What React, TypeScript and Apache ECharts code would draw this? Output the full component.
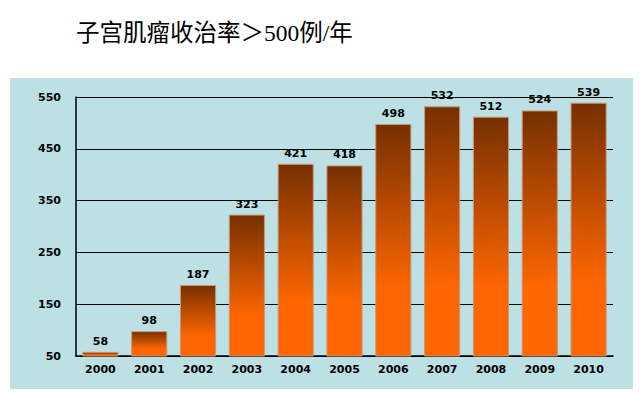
import React, { useEffect, useRef } from "react";
import * as echarts from "echarts";

const years = ["2000", "2001", "2002", "2003", "2004", "2005", "2006", "2007", "2008", "2009", "2010"];
const cases = [58, 98, 187, 323, 421, 418, 498, 532, 512, 524, 539];
const titleText = "子宫肌瘤收治率＞500例/年";

export default function App() {
  const ref = useRef<HTMLDivElement>(null);
  useEffect(() => {
    document.body.style.margin = "0";
    if (!ref.current) return;
    const chart = echarts.init(ref.current, null, { renderer: "svg" });
    const labelFont = { fontFamily: "DejaVu Sans", fontWeight: "bold" as const, fontSize: 11, color: "#000" };
    chart.setOption({
      animation: false,
      backgroundColor: "#ffffff",
      graphic: [
        {
          type: "rect",
          z: -10,
          silent: true,
          shape: { x: 10, y: 78, width: 623, height: 311 },
          style: { fill: "#BCE0E3" },
        },
        {
          type: "text",
          x: 76,
          y: 33,
          style: {
            text: titleText,
            font: '23.5px "Liberation Serif", "Noto Sans CJK SC", serif',
            fill: "#000",
            verticalAlign: "middle",
          },
        },
      ],
      grid: { left: 76, right: 28, top: 97, bottom: 37 },
      xAxis: {
        type: "category",
        data: years,
        axisLine: { lineStyle: { color: "#000", width: 1.5 } },
        axisTick: { inside: true, length: 4, lineStyle: { color: "#000" } },
        axisLabel: { ...labelFont, margin: 8 },
      },
      yAxis: {
        type: "value",
        min: 50,
        max: 550,
        interval: 100,
        axisLine: { show: true, lineStyle: { color: "#000", width: 1.5 } },
        axisTick: { show: false },
        splitLine: { lineStyle: { color: "#000", width: 1 } },
        axisLabel: { ...labelFont, margin: 15 },
      },
      series: [
        {
          type: "bar",
          data: cases,
          barCategoryGap: "26%",
          itemStyle: {
            borderColor: "#C49A7C",
            borderWidth: 1,
            color: new echarts.graphic.LinearGradient(0, 0, 0, 1, [
              { offset: 0, color: "#763000" },
              { offset: 0.72, color: "#FF6600" },
              { offset: 1, color: "#FF6600" },
            ]),
          },
          label: { show: true, position: "top", distance: 5, ...labelFont },
        },
      ],
    });
    return () => chart.dispose();
  }, []);
  return <div ref={ref} style={{ width: 641, height: 393 }} />;
}
